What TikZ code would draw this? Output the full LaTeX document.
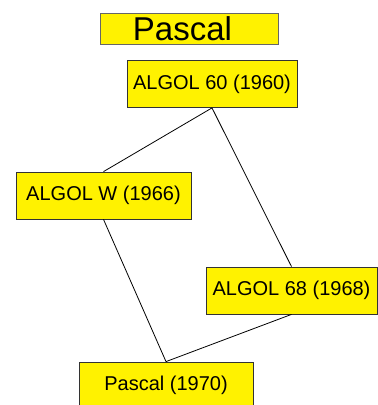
\documentclass[tikz,border=0pt]{standalone}
\usepackage{fontspec}
\setmainfont{Liberation Sans}
\tikzset{
  langbox/.style={draw=black!80,line width=0.8pt,fill=yellow,minimum height=47pt,
    inner sep=0pt,font=\fontsize{20}{24}\selectfont},
  titlebox/.style={draw=black!60,line width=0.8pt,fill=yellow,minimum width=178pt,
    minimum height=31pt,inner sep=0pt,font=\fontsize{33}{35}\selectfont},
}
\begin{document}
\begin{tikzpicture}[x=1pt,y=-1pt]
  \useasboundingbox (0,0) rectangle (378,405);
  \node[titlebox] (title) at (189,28.5) {Pascal\kern13pt\relax};
  \node[langbox,minimum width=170pt] (algolsixty) at (212,84) {ALGOL 60 (1960)};
  \node[langbox,minimum width=175pt] (algolw) at (103.5,195.5) {ALGOL W (1966)};
  \node[langbox,minimum width=171pt] (algolsixtyeight) at (291.5,290.5) {ALGOL 68 (1968)};
  \node[langbox,minimum width=174pt] (pascal) at (166,385.5) {Pascal (1970)};
  \draw[line width=0.8pt] (algolsixty.south) -- (algolw.north);
  \draw[line width=0.8pt] (algolsixty.south) -- (algolsixtyeight.north);
  \draw[line width=0.8pt] (algolw.south) -- (pascal.north);
  \draw[line width=0.8pt] (algolsixtyeight.south) -- (pascal.north);
\end{tikzpicture}
\end{document}
